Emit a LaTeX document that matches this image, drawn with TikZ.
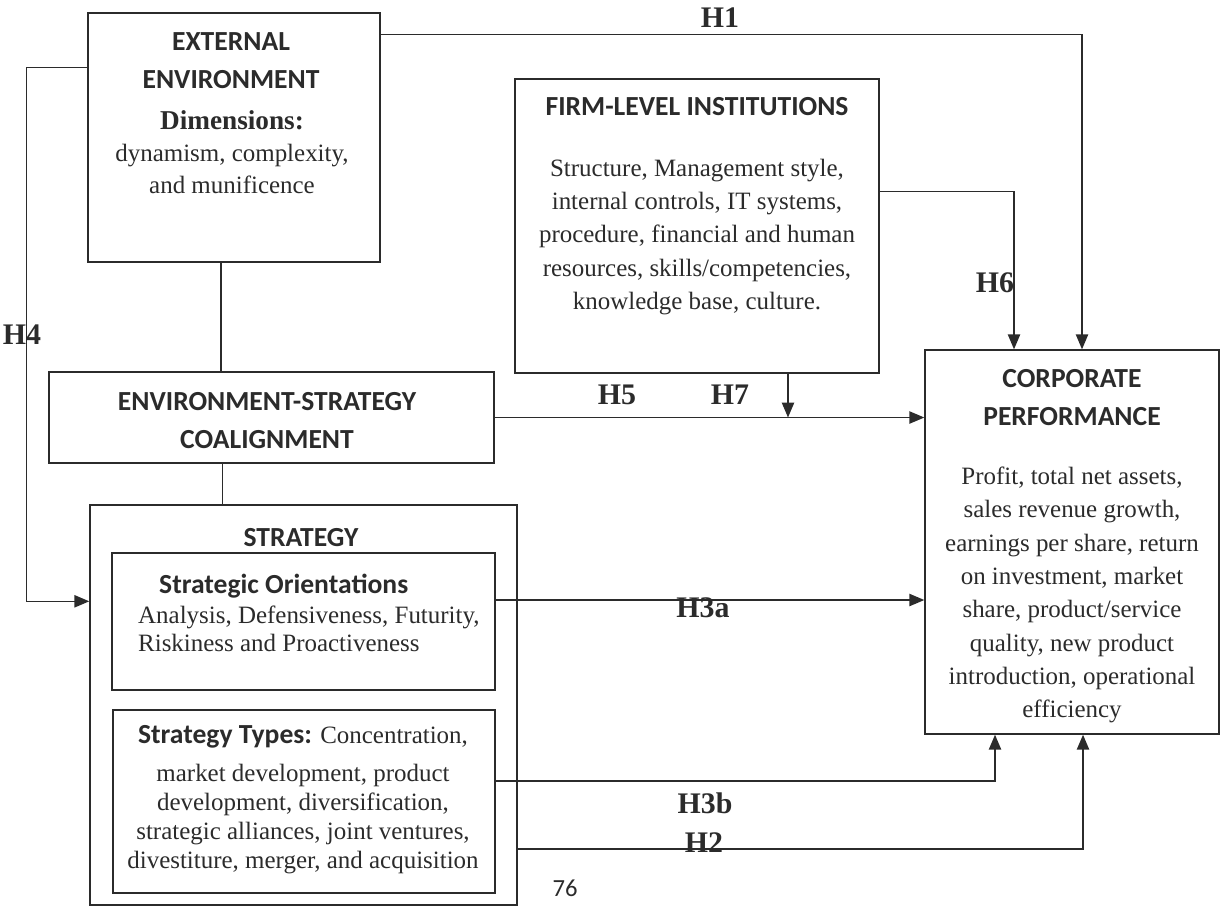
\documentclass[tikz,border=0pt]{standalone}
\usepackage{fontspec}
\setmainfont{Liberation Serif}
\newfontfamily\hdfont{Carlito}
\usetikzlibrary{arrows.meta}
\definecolor{ink}{HTML}{2B2B2B}

\begin{document}
\begin{tikzpicture}[
  box/.style={draw=ink, line width=0.8pt, inner sep=0pt},
  head/.style={text=ink, align=center, font=\hdfont\bfseries\fontsize{15.7}{21.6}\selectfont},
  body/.style={text=ink, align=center, font=\fontsize{14.2}{19}\selectfont},
  hyp/.style={text=ink, font=\bfseries\fontsize{17}{17}\selectfont},
  link/.style={draw=ink, line width=0.8pt},
  conn/.style={link, -{Triangle[length=8.5pt,width=7pt]}}
]
\useasboundingbox (0,0) rectangle (24.52,-18.2);

% boxes
\node[box, minimum width=5.84cm, minimum height=4.98cm] (ext) at (4.68,-2.75) {};
\node[box, minimum width=7.28cm, minimum height=5.88cm] (firm) at (13.94,-4.52) {};
\node[box, minimum width=8.9cm, minimum height=1.82cm] (coal) at (5.43,-8.35) {};
\node[box, minimum width=8.54cm, minimum height=8cm] (strat) at (6.07,-14.1) {};
\node[box, minimum width=7.66cm, minimum height=2.74cm] (orient) at (6.07,-12.43) {};
\node[box, minimum width=7.64cm, minimum height=3.66cm] (types) at (6.08,-16.03) {};
\node[box, minimum width=5.88cm, minimum height=7.68cm] (perf) at (21.44,-10.84) {};

% texts in the boxes
\node[head] (exthead) at (4.62,-1.22) {EXTERNAL\\ENVIRONMENT};
\node[text=ink, font=\bfseries\fontsize{15.5}{18}\selectfont] (extdim) at (4.64,-2.4) {Dimensions:};
\node[body, font=\fontsize{14.2}{18.2}\selectfont] (extbody) at (4.64,-3.38) {dynamism, complexity,\\and munificence};

\node[head] (firmhead) at (13.94,-2.14) {FIRM-LEVEL INSTITUTIONS};
\node[body] (firmbody) at (13.94,-4.74) {Structure, Management style,\\internal controls, IT systems,\\procedure, financial and human\\resources, skills/competencies,\\knowledge base, culture.};

\node[head] (coalhead) at (5.34,-8.42) {ENVIRONMENT-STRATEGY\\COALIGNMENT};

\node[head] (strathead) at (6.02,-10.76) {STRATEGY};
\node[body, align=left, anchor=west, font=\fontsize{14.2}{16}\selectfont] (orienttxt) at (2.64,-12.26)
  {\hspace{0.42cm}{\hdfont\bfseries\fontsize{15.7}{16}\selectfont Strategic Orientations}\\[1pt]
   Analysis, Defensiveness, Futurity,\\Riskiness and Proactiveness};
\node[body, font=\fontsize{14.2}{16.5}\selectfont] (typestxt) at (6.06,-16.0)
  {{\hdfont\bfseries\fontsize{15.7}{16}\selectfont Strategy Types:} Concentration,\\[5pt]
   market development, product\\development, diversification,\\strategic alliances, joint ventures,\\divestiture, merger, and acquisition};

\node[head] (perfhead) at (21.44,-7.95) {CORPORATE\\PERFORMANCE};
\node[body] (perfbody) at (21.44,-11.9) {Profit, total net assets,\\sales revenue growth,\\earnings per share, return\\on investment, market\\share, product/service\\quality, new product\\introduction, operational\\efficiency};

% connectors
\draw[conn] ([yshift=-0.44cm]ext.north east) -| ([xshift=0.2cm]perf.north);
\draw[conn] ([yshift=-2.26cm]firm.north east) -| ([xshift=-1.16cm]perf.north);
\draw[conn] ([yshift=-1.1cm]ext.north west) -- ++(-1.22,0) |- ([yshift=-1.94cm]strat.north west);
\draw[link] ([xshift=-0.26cm]ext.south) -- ([xshift=-0.26cm]ext.south |- coal.north);
\draw[link] ([xshift=-0.98cm]coal.south) -- ([xshift=-0.98cm]coal.south |- strat.north);
\draw[conn] (coal.east) -- (coal.east -| perf.west);
\draw[conn] ([xshift=1.82cm]firm.south) -- ([xshift=1.82cm]firm.south |- coal.east);
\draw[conn] ([yshift=0.43cm]orient.east) -- ([yshift=0.43cm]orient.east -| perf.west);
\draw[conn] ([yshift=0.41cm]types.east) -| ([xshift=-1.54cm]perf.south);
\draw[conn] ([yshift=-2.88cm]strat.east) -| ([xshift=0.22cm]perf.south);

% hypothesis labels
\node[hyp] (h1) at (14.4,-0.36) {H1};
\node[hyp] (h4) at (0.44,-6.7) {H4};
\node[hyp] (h6) at (19.9,-5.66) {H6};
\node[hyp] (h5) at (12.34,-7.9) {H5};
\node[hyp] (h7) at (14.6,-7.9) {H7};
\node[hyp] (h3a) at (14.06,-12.16) {H3a};
\node[hyp] (h3b) at (14.1,-16.06) {H3b};
\node[hyp] (h2) at (14.08,-16.86) {H2};

\node[text=ink, font=\hdfont\fontsize{14}{14}\selectfont] (page) at (11.3,-17.76) {76};
\end{tikzpicture}
\end{document}
